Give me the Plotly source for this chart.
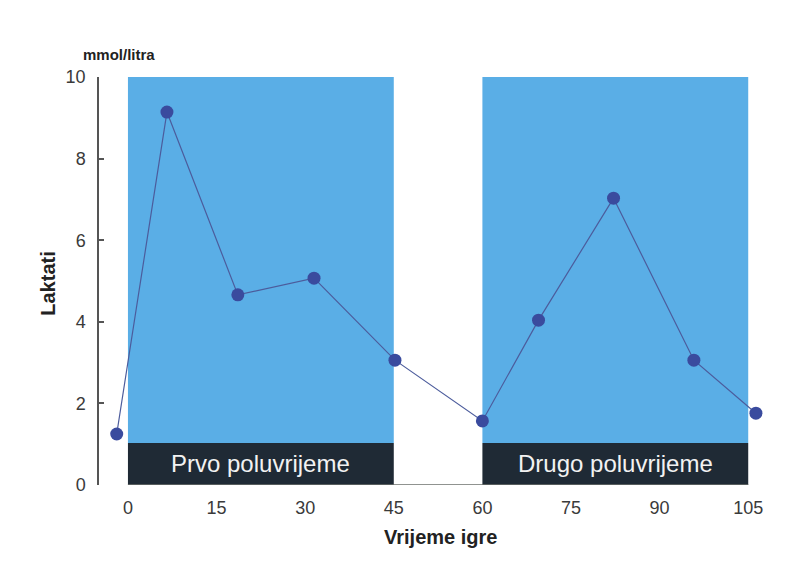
import plotly.graph_objects as go

# Data
time_min = [-1.9, 6.6, 18.6, 31.5, 45.2, 60.0, 69.5, 82.2, 95.8, 106.3]
lactate = [1.25, 9.14, 4.66, 5.07, 3.06, 1.57, 4.04, 7.03, 3.06, 1.76]
half_labels = ["Prvo poluvrijeme", "Drugo poluvrijeme"]
half_start = [0, 60]
half_end = [45, 105]
band_top = 1.03
y_max = 10
x_ticks = [0, 15, 30, 45, 60, 75, 90, 105]
y_ticks = [0, 2, 4, 6, 8, 10]

FONT = "Liberation Sans, Arial, sans-serif"
BLUE = "#5aaee6"
DARK = "#1f2a35"

fig = go.Figure()

shapes = []
annotations = []
for lab, s, e in zip(half_labels, half_start, half_end):
    shapes.append(dict(type="rect", xref="x", yref="y", x0=s, x1=e, y0=band_top, y1=y_max,
                       fillcolor=BLUE, line=dict(width=0), layer="below"))
    shapes.append(dict(type="rect", xref="x", yref="y", x0=s, x1=e, y0=0, y1=band_top,
                       fillcolor=DARK, line=dict(width=0), layer="below"))
    annotations.append(dict(x=(s + e) / 2, y=band_top / 2, xref="x", yref="y", text=lab,
                            xanchor="center", yanchor="middle",
                            showarrow=False, font=dict(family=FONT, size=24, color="#f2f2f2")))

# x axis baseline from 0 to 105
shapes.append(dict(type="line", xref="x", yref="y", x0=half_start[0], x1=half_end[-1], y0=0, y1=0,
                   line=dict(color="#6b6f6b", width=1.5), layer="above"))

fig.add_trace(go.Scatter(
    x=time_min, y=lactate, mode="lines+markers",
    line=dict(color="#4c5c9c", width=1.2),
    marker=dict(color="#3a4b9e", size=13, line=dict(width=0)),
    cliponaxis=False, showlegend=False, hoverinfo="x+y"))

annotations += [
    dict(text="<b>Laktati</b>", xref="paper", yref="paper", x=-0.077, y=0.493, textangle=-90,
         xanchor="center", yanchor="middle",
         showarrow=False, font=dict(family=FONT, size=20, color="#222")),
    dict(text="<b>Vrijeme igre</b>", xref="paper", yref="paper", x=0.5136, y=-0.127,
         xanchor="center", yanchor="middle",
         showarrow=False, font=dict(family=FONT, size=20, color="#222")),
    dict(text="<b>mmol/litra</b>", xref="paper", yref="paper", x=0.030, y=1.054,
         xanchor="center", yanchor="middle",
         showarrow=False, font=dict(family=FONT, size=15, color="#222")),
]

fig.update_layout(
    width=802, height=563,
    margin=dict(l=91, r=47, t=69, b=86),
    paper_bgcolor="white", plot_bgcolor="white",
    shapes=shapes, annotations=annotations,
    xaxis=dict(range=[-4.9, 107.5], tickvals=x_ticks, showgrid=False, zeroline=False,
               showline=False, ticks="", ticklabelstandoff=10,
               tickfont=dict(family=FONT, size=18, color="#3a3a3a")),
    yaxis=dict(range=[0, y_max], tickvals=y_ticks, showgrid=False, zeroline=False,
               showline=True, linecolor="#555", linewidth=1.5, ticks="inside", ticklen=5,
               tickcolor="#555", tickwidth=1.5, ticklabelstandoff=8,
               tickfont=dict(family=FONT, size=18, color="#3a3a3a")),
)

fig.write_html("out.html")
